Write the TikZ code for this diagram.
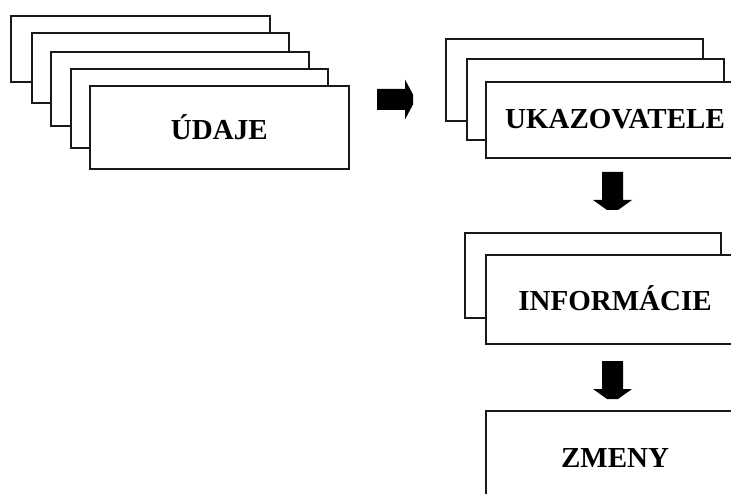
\documentclass[tikz,border=0pt]{standalone}
\usepackage{fontspec}
\setmainfont{Liberation Serif}
\begin{document}
\begin{tikzpicture}[x=1pt,y=-1pt,
  card/.style={draw=black!90, line width=1.6pt, fill=white, rectangle,
    inner sep=0pt, anchor=north west, font=\bfseries\fontsize{29}{32}\selectfont},
  rightarr/.pic={\fill (0,-10.5) -- (28,-10.5) -- (28,-20) -- (36,-5) -- (36,5)
      -- (28,20) -- (28,10.5) -- (0,10.5) -- cycle;},
  downarr/.pic={\fill (-10.5,0) -- (-10.5,28) -- (-19.5,28) -- (-5.5,38) -- (5.5,38)
      -- (19.5,28) -- (10.5,28) -- (10.5,0) -- cycle;}]
\useasboundingbox (0,0) rectangle (731,494);
\clip (0,0) rectangle (731,494);

% data sheets
\node[card, minimum width=259pt, minimum height=66pt] (d1) at (10,15) {};
\node[card, minimum width=257pt, minimum height=70pt] (d2) at (31,32) {};
\node[card, minimum width=258pt, minimum height=74pt] (d3) at (50,51) {};
\node[card, minimum width=257pt, minimum height=79pt] (d4) at (70,68) {};
\node[card, minimum width=259pt, minimum height=83pt] (d5) at (89,85) {ÚDAJE};

% indicators
\node[card, minimum width=257pt, minimum height=82pt] (u1) at (445,38) {};
\node[card, minimum width=257pt, minimum height=81pt] (u2) at (466,58) {};
\node[card, minimum width=257pt, minimum height=76pt] (u3) at (485,81) {};
\node[font=\bfseries\fontsize{29}{32}\selectfont] (u3t) at (615,119) {UKAZOVATELE};

% information
\node[card, minimum width=256pt, minimum height=85pt] (i1) at (464,232) {};
\node[card, minimum width=257pt, minimum height=89pt] (i2) at (485,254) {};
\node[font=\bfseries\fontsize{29}{32}\selectfont] (i2t) at (615,298) {INFORMÁCIE};

% changes
\node[card, minimum width=257pt, minimum height=100pt] (z1) at (485,410) {};
\node[font=\bfseries\fontsize{29}{32}\selectfont] (z1t) at (615,458) {ZMENY};

% block arrows between the stages
\coordinate (a1) at (377,99.5);
\coordinate (a2) at (612.5,172);
\coordinate (a3) at (612.5,361);
\pic at (a1) {rightarr};
\pic at (a2) {downarr};
\pic at (a3) {downarr};
\end{tikzpicture}
\end{document}
